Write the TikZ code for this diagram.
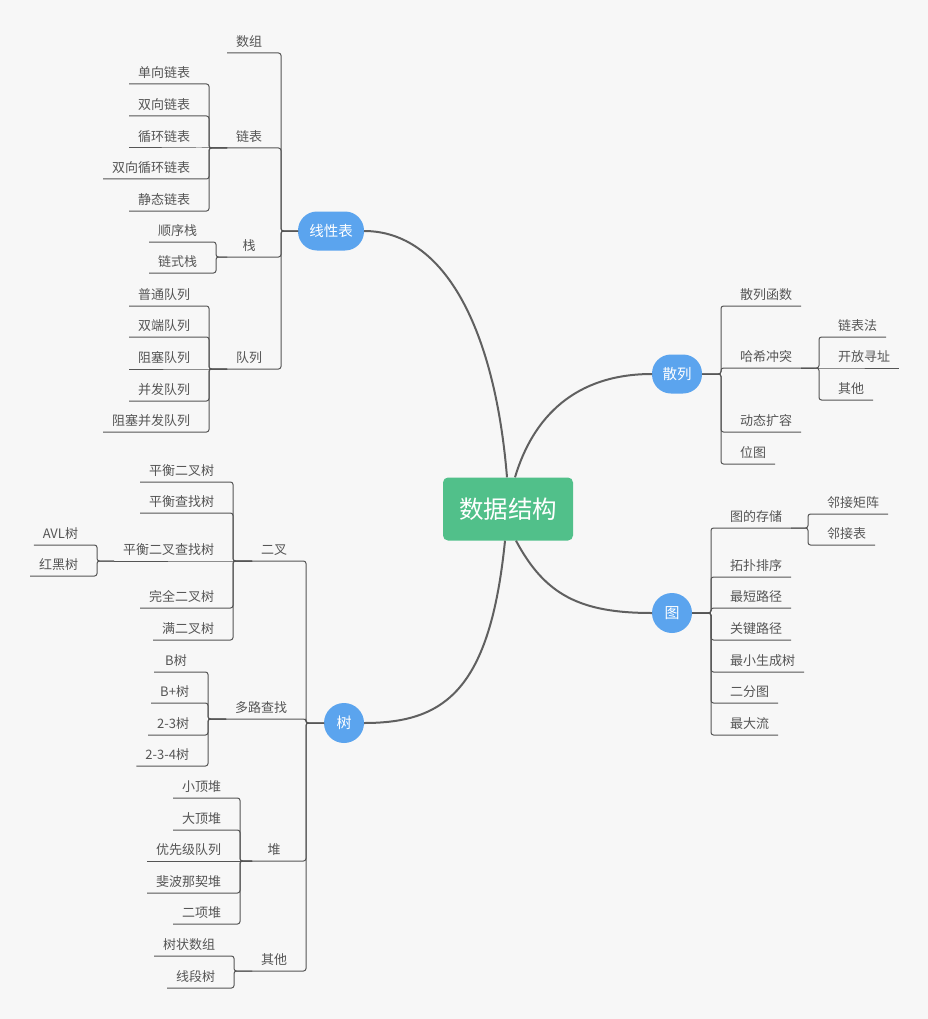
\documentclass[tikz,border=0pt]{standalone}
\usepackage{fontspec}
\newfontfamily\cjk{Noto Sans CJK SC}
\usetikzlibrary{positioning}

\definecolor{bg}{RGB}{247,247,247}
\definecolor{ink}{RGB}{85,85,85}
\definecolor{wire}{RGB}{96,96,96}
\definecolor{topic}{RGB}{91,164,238}
\definecolor{centre}{RGB}{81,192,138}

\begin{document}
\begin{tikzpicture}[x=1pt,y=-1pt,
    leaf/.style={inner xsep=9pt,inner ysep=4.5pt,outer sep=0pt,minimum width=44pt,
        text=ink,font=\cjk\fontsize{13}{15}\selectfont,text height=10pt,text depth=2pt},
    lleaf/.style={leaf,anchor=south east},
    rleaf/.style={leaf,anchor=south west},
    pill/.style={fill=topic,text=white,font=\cjk\fontsize{14.5}{16}\selectfont,
        rounded corners=19pt,minimum height=39pt,inner sep=0pt,outer sep=0pt},
    ball/.style={circle,fill=topic,text=white,font=\cjk\fontsize{15}{17}\selectfont,
        minimum size=40pt,inner sep=0pt,outer sep=0pt},
    centrebox/.style={fill=centre,text=white,font=\cjk\fontsize{24.5}{28}\selectfont,
        rounded corners=5pt,minimum width=130pt,minimum height=63pt,inner sep=0pt},
    link/.style={draw=ink,line width=1pt,rounded corners=2.5pt},
    curve/.style={draw=wire,line width=2pt}]
    \fill[bg] (0,0) rectangle (928,1019);
    \useasboundingbox (0,0) rectangle (928,1019);

    % centre and main topics
    \node (root)[centrebox] at (508,509) {数据结构};
    \node (linear)[pill,minimum width=66pt] at (331,231) {线性表};
    \node (hash)[pill,minimum width=50pt] at (677,374) {散列};
    \node (graph)[ball] at (672,613) {图};
    \node (tree)[ball] at (344,723) {树};

    \draw[curve] ([xshift=-1pt]root.north) .. controls (495,330) and (445,231) .. (linear.east);
    \draw[curve] ([xshift=7pt]root.north) .. controls (533,417) and (575,374) .. (hash.west);
    \draw[curve] ([xshift=8pt]root.south) .. controls (545,595) and (580,613) .. (graph.west);
    \draw[curve] ([xshift=-3pt]root.south) .. controls (490,690) and (445,723) .. (tree.east);

    % linear
    \node (array)[lleaf] at (271,53) {数组};
    \node (linked)[lleaf] at (271,148) {链表};
    \node (stack)[lleaf] at (271,257) {栈};
    \node (queue)[lleaf] at (271,369) {队列};

    \node (sll)[lleaf] at (199,84) {单向链表};
    \node (dll)[lleaf] at (199,116) {双向链表};
    \node (cll)[lleaf] at (199,148) {循环链表};
    \node (dcll)[lleaf] at (199,179) {双向循环链表};
    \node (static)[lleaf] at (199,211) {静态链表};

    \node (seqstack)[lleaf] at (206,242) {顺序栈};
    \node (linkstack)[lleaf] at (206,273) {链式栈};

    \node (normal)[lleaf] at (199,306) {普通队列};
    \node (deque)[lleaf] at (199,337) {双端队列};
    \node (block)[lleaf] at (199,369) {阻塞队列};
    \node (conc)[lleaf] at (199,401) {并发队列};
    \node (bconc)[lleaf] at (199,432) {阻塞并发队列};

    % tree
    \node (binary)[lleaf] at (296,561) {二叉};
    \node (multi)[lleaf] at (296,719) {多路查找};
    \node (heap)[lleaf] at (296,861) {堆};
    \node (other)[lleaf] at (296,971) {其他};

    \node (avlbal)[lleaf] at (223,482) {平衡二叉树};
    \node (balsearch)[lleaf] at (223,513) {平衡查找树};
    \node (bbst)[lleaf] at (223,561) {平衡二叉查找树};
    \node (complete)[lleaf] at (223,608) {完全二叉树};
    \node (full)[lleaf] at (223,640) {满二叉树};

    \node (avl)[lleaf] at (87,545) {AVL树};
    \node (rb)[lleaf] at (87,576) {红黑树};

    \node (btree)[lleaf] at (198,672) {B树};
    \node (bplus)[lleaf] at (198,703) {B+树};
    \node (t23)[lleaf] at (198,735) {2-3树};
    \node (t234)[lleaf] at (198,766) {2-3-4树};

    \node (minheap)[lleaf] at (230,798) {小顶堆};
    \node (maxheap)[lleaf] at (230,830) {大顶堆};
    \node (pq)[lleaf] at (230,861) {优先级队列};
    \node (fib)[lleaf] at (230,893) {斐波那契堆};
    \node (binom)[lleaf] at (230,924) {二项堆};

    \node (bit)[lleaf] at (224,956) {树状数组};
    \node (seg)[lleaf] at (224,988) {线段树};

    % hash
    \node (hfunc)[rleaf] at (731,306) {散列函数};
    \node (coll)[rleaf] at (731,368) {哈希冲突};
    \node (resize)[rleaf] at (731,432) {动态扩容};
    \node (bitmap)[rleaf] at (731,464) {位图};

    \node (chain)[rleaf] at (829,337) {链表法};
    \node (open)[rleaf] at (829,368) {开放寻址};
    \node (others)[rleaf] at (829,400) {其他};

    % graph
    \node (store)[rleaf] at (721,528) {图的存储};
    \node (topo)[rleaf] at (721,577) {拓扑排序};
    \node (short)[rleaf] at (721,608) {最短路径};
    \node (crit)[rleaf] at (721,640) {关键路径};
    \node (mst)[rleaf] at (721,672) {最小生成树};
    \node (bip)[rleaf] at (721,703) {二分图};
    \node (flow)[rleaf] at (721,735) {最大流};

    \node (adjm)[rleaf] at (818,514) {邻接矩阵};
    \node (adjl)[rleaf] at (818,545) {邻接表};

    % spines
    \coordinate (linearS) at ([xshift=-17pt]linear.west);
    \coordinate (linkedS) at ([xshift=-18pt]linked.south west);
    \coordinate (stackS) at ([xshift=-11pt]stack.south west);
    \coordinate (queueS) at ([xshift=-18pt]queue.south west);
    \coordinate (treeS) at ([xshift=-18pt]tree.west);
    \coordinate (binaryS) at ([xshift=-19pt]binary.south west);
    \coordinate (bbstS) at ([xshift=-17pt]bbst.south west);
    \coordinate (multiS) at ([xshift=-18pt]multi.south west);
    \coordinate (heapS) at ([xshift=-12pt]heap.south west);
    \coordinate (otherS) at ([xshift=-18pt]other.south west);
    \coordinate (hashS) at ([xshift=19pt]hash.east);
    \coordinate (collS) at ([xshift=18pt]coll.south east);
    \coordinate (graphS) at ([xshift=19pt]graph.east);
    \coordinate (storeS) at ([xshift=17pt]store.south east);

    % links, left side
    \foreach \c in {array,linked,stack,queue}
        \draw[link] (linear.west) -- (linearS) |- (\c.south east) -- (\c.south west);
    \foreach \c in {sll,dll,dcll,static}
        \draw[link] (linked.south west) -- (linkedS) |- (\c.south east) -- (\c.south west);
    \draw[link] (linked.south west) -- (cll.south east) -- (cll.south west);
    \foreach \c in {seqstack,linkstack}
        \draw[link] (stack.south west) -- (stackS) |- (\c.south east) -- (\c.south west);
    \foreach \c in {normal,deque,conc,bconc}
        \draw[link] (queue.south west) -- (queueS) |- (\c.south east) -- (\c.south west);
    \draw[link] (queue.south west) -- (block.south east) -- (block.south west);

    \foreach \c in {binary,multi,heap,other}
        \draw[link] (tree.west) -- (treeS) |- (\c.south east) -- (\c.south west);
    \foreach \c in {avlbal,balsearch,complete,full}
        \draw[link] (binary.south west) -- (binaryS) |- (\c.south east) -- (\c.south west);
    \draw[link] (binary.south west) -- (bbst.south east) -- (bbst.south west);
    \foreach \c in {avl,rb}
        \draw[link] (bbst.south west) -- (bbstS) |- (\c.south east) -- (\c.south west);
    \foreach \c in {btree,bplus,t23,t234}
        \draw[link] (multi.south west) -- (multiS) |- (\c.south east) -- (\c.south west);
    \foreach \c in {minheap,maxheap,fib,binom}
        \draw[link] (heap.south west) -- (heapS) |- (\c.south east) -- (\c.south west);
    \draw[link] (heap.south west) -- (pq.south east) -- (pq.south west);
    \foreach \c in {bit,seg}
        \draw[link] (other.south west) -- (otherS) |- (\c.south east) -- (\c.south west);

    % links, right side
    \foreach \c in {hfunc,coll,resize,bitmap}
        \draw[link] (hash.east) -- (hashS) |- (\c.south west) -- (\c.south east);
    \foreach \c in {chain,others}
        \draw[link] (coll.south east) -- (collS) |- (\c.south west) -- (\c.south east);
    \draw[link] (coll.south east) -- (open.south west) -- (open.south east);
    \foreach \c in {store,topo,short,crit,mst,bip,flow}
        \draw[link] (graph.east) -- (graphS) |- (\c.south west) -- (\c.south east);
    \foreach \c in {adjm,adjl}
        \draw[link] (store.south east) -- (storeS) |- (\c.south west) -- (\c.south east);
\end{tikzpicture}
\end{document}
